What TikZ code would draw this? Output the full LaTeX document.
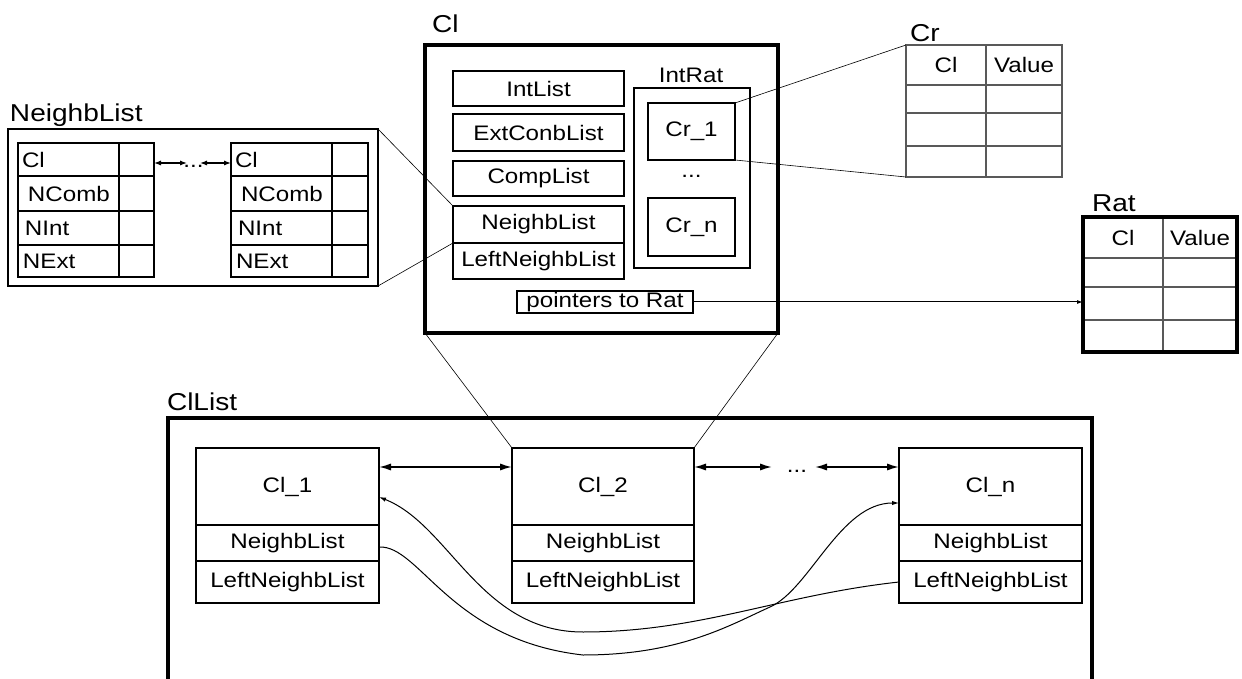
\documentclass[tikz,border=0pt]{standalone}
\usepackage{fontspec}
\setmainfont{Liberation Sans}[FakeStretch=1.15]
\usetikzlibrary{arrows.meta}
\newcommand\fntS{\fontsize{10.5}{12}\selectfont}
\newcommand\fntL{\fontsize{12.2}{14}\selectfont}
\begin{document}
\begin{tikzpicture}[x=0.5pt,y=-0.5pt,
  px/.style 2 args={minimum width=#1*0.5pt, minimum height=#2*0.5pt},
  ph/.style={minimum height=#1*0.5pt},
  base/.style={outer sep=0pt, inner sep=0pt, anchor=north west, font=\fntS},
  box/.style={base, draw, line width=0.7pt},
  cbox/.style={base, draw, line width=1pt},
  thickbox/.style={base, draw, line width=1.6pt},
  cell/.style={base, draw, line width=0.55pt},
  gcell/.style={base, draw=black!65, line width=0.55pt},
  lcell/.style={cell, text width=50.5pt, align=left},
  lbl/.style={anchor=base west, inner sep=0pt, outer sep=0pt, font=\fntL},
  txt/.style={anchor=base, inner sep=0pt, outer sep=0pt, font=\fntS},
  dbl/.style={{Latex[length=6pt,width=3.6pt]}-{Latex[length=6pt,width=3.6pt]}, line width=0.8pt},
  sdbl/.style={{Latex[length=3.5pt,width=2.6pt]}-{Latex[length=3.5pt,width=2.6pt]}, line width=0.7pt},
  curve/.style={-{Latex[length=3.5pt,width=2.2pt]}, line width=0.5pt},
  ptrarrow/.style={-{Latex[length=3pt,width=2pt]}, line width=0.5pt},
  proj/.style={line width=0.3pt}]
\useasboundingbox (0,0) rectangle (1242,679);

% ---------------- NeighbList detail ----------------
\node[lbl] (nllbl) at (10,122) {NeighbList};
\node[box, px={370}{157}] (nlouter) at (8,129) {};
% left table
\node[lcell, ph=33] (la1) at (18,143) {\hspace*{2pt}Cl};
\node[cell, px={35}{33}] (la2) at (119,143) {};
\node[lcell, ph=35] (lb1) at (18,176) {\hspace*{5pt}NComb};
\node[cell, px={35}{35}] (lb2) at (119,176) {};
\node[lcell, ph=34] (lc1) at (18,211) {\hspace*{3.5pt}NInt};
\node[cell, px={35}{34}] (lc2) at (119,211) {};
\node[lcell, ph=32] (ld1) at (18,245) {\hspace*{2.5pt}NExt};
\node[cell, px={35}{32}] (ld2) at (119,245) {};
% right table
\node[lcell, ph=33] (ra1) at (231,143) {\hspace*{2pt}Cl};
\node[cell, px={36}{33}] (ra2) at (332,143) {};
\node[lcell, ph=35] (rb1) at (231,176) {\hspace*{5pt}NComb};
\node[cell, px={36}{35}] (rb2) at (332,176) {};
\node[lcell, ph=34] (rc1) at (231,211) {\hspace*{3.5pt}NInt};
\node[cell, px={36}{34}] (rc2) at (332,211) {};
\node[lcell, ph=32] (rd1) at (231,245) {\hspace*{2.5pt}NExt};
\node[cell, px={36}{32}] (rd2) at (332,245) {};
\coordinate (nly) at (0,163);
\coordinate (nla) at (187,163);
\coordinate (nlb) at (200,163);
\node[txt] (nldots) at (193.5,168) {...};
\draw[sdbl] (la2.east |- nly) -- (nla);
\draw[sdbl] (nlb) -- (ra1.west |- nly);

% ---------------- Cl detail ----------------
\node[lbl] (cllbl) at (432,33) {Cl};
\node[thickbox, px={353}{288}] (cl) at (425,45) {};
\node[box, px={171}{35}] (intlist) at (453,71) {IntList};
\node[box, px={171}{37}] (extlist) at (453,114) {ExtConbList};
\node[box, px={171}{35}] (complist) at (453,161) {CompList};
\node[box, px={171}{37}] (clnb) at (453,206) {NeighbList};
\node[box, px={171}{36}] (cllnb) at (453,243) {LeftNeighbList};
\draw[line width=1pt] (clnb.south west) -- (clnb.south east);
\node[txt] (intratlbl) at (691,83) {IntRat};
\node[box, px={116}{180}] (intrat) at (634,88) {};
\node[box, px={87}{57}] (cr1) at (648,103) {Cr\_1};
\node[txt] (crdots) at (691.5,178) {...};
\node[box, px={87}{58}] (crn) at (648,198) {Cr\_n};
\node[box, px={176}{22}] (ptr) at (517,291) {pointers to Rat};

% ---------------- Cr table ----------------
\node[lbl] (crlbl) at (910,42) {Cr};
\node[gcell, px={80}{40}] (crA1) at (906,45) {Cl};
\node[gcell, px={76}{40}] (crA2) at (986,45) {Value};
\node[gcell, px={80}{28}] (crB1) at (906,85) {};
\node[gcell, px={76}{28}] (crB2) at (986,85) {};
\node[gcell, px={80}{33}] (crC1) at (906,113) {};
\node[gcell, px={76}{33}] (crC2) at (986,113) {};
\node[gcell, px={80}{31}] (crD1) at (906,146) {};
\node[gcell, px={76}{31}] (crD2) at (986,146) {};

% ---------------- Rat table ----------------
\node[lbl] (ratlbl) at (1092,212) {Rat};
\node[gcell, px={80}{41}] (rtA1) at (1083,217) {Cl};
\node[gcell, px={74}{41}] (rtA2) at (1163,217) {Value};
\node[gcell, px={80}{29}] (rtB1) at (1083,258) {};
\node[gcell, px={74}{29}] (rtB2) at (1163,258) {};
\node[gcell, px={80}{33}] (rtC1) at (1083,287) {};
\node[gcell, px={74}{33}] (rtC2) at (1163,287) {};
\node[gcell, px={80}{32}] (rtD1) at (1083,320) {};
\node[gcell, px={74}{32}] (rtD2) at (1163,320) {};
\node[thickbox, px={154}{135}] (rat) at (1083,217) {};
\draw[ptrarrow] (ptr.east) -- (ptr.east -| rat.west);

% ---------------- ClList ----------------
\node[lbl] (cllistlbl) at (167,410) {ClList};
\coordinate (clbl) at (168,679);
\coordinate (cltl) at (168,418);
\coordinate (cltr) at (1092,418);
\coordinate (clbr) at (1092,679);
\draw[line width=1.6pt] (clbl) -- (cltl) -- (cltr) -- (clbr);

\node[cbox, px={183}{77}] (c1top) at (196,448) {Cl\_1};
\node[cbox, px={183}{36}] (c1nb) at (196,525) {NeighbList};
\node[cbox, px={183}{42}] (c1lnb) at (196,561) {LeftNeighbList};
\node[cbox, px={182}{77}] (c2top) at (512,448) {Cl\_2};
\node[cbox, px={182}{36}] (c2nb) at (512,525) {NeighbList};
\node[cbox, px={182}{42}] (c2lnb) at (512,561) {LeftNeighbList};
\node[cbox, px={183}{77}] (cntop) at (899,448) {Cl\_n};
\node[cbox, px={183}{36}] (cnnb) at (899,525) {NeighbList};
\node[cbox, px={183}{42}] (cnlnb) at (899,561) {LeftNeighbList};

\coordinate (ya) at (0,467);
\coordinate (a1) at (772,467);
\coordinate (a2) at (815,467);
\node[txt] (cldots) at (797,472) {...};
\draw[dbl] (c1top.east |- ya) -- (c2top.west |- ya);
\draw[dbl] (c2top.east |- ya) -- (a1);
\draw[dbl] (a2) -- (cntop.west |- ya);

\coordinate (yb) at (0,503);
\coordinate (yc) at (0,547);
\coordinate (yd) at (0,497);
\draw[curve] (c1nb.east |- yc) .. controls (420,545) and (450,640) .. (583,655)
  .. controls (680,655) and (730,625) .. (770,607)
  .. controls (810,589) and (840,503) .. (cntop.west |- yb);
\draw[curve] (cnlnb.west) .. controls (780,595) and (700,632) .. (583,632)
  .. controls (480,632) and (450,525) .. (c1top.east |- yd);

% ---------------- projection lines ----------------
\draw[proj] (nlouter.north east) -- (clnb.north west);
\draw[proj] (nlouter.south east) -- (clnb.south west);
\draw[proj] (cr1.north east) -- (crA1.north west);
\draw[proj] (cr1.south east) -- (crD1.south west);
\draw[proj] (cl.south west) -- (c2top.north west);
\draw[proj] (cl.south east) -- (c2top.north east);
\end{tikzpicture}
\end{document}
